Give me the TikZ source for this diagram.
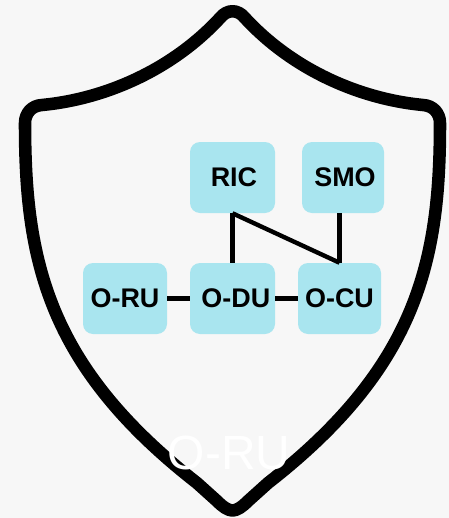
\documentclass[tikz,border=0pt]{standalone}
\usepackage{fontspec}
\setmainfont{Liberation Sans}
\definecolor{bgc}{HTML}{F7F7F7}
\definecolor{boxc}{HTML}{A9E5EF}
\tikzset{
  unitbox/.style={draw=none,fill=boxc,rounded corners=7.5pt,inner sep=0pt,font=\fontsize{20.2}{24}\selectfont\bfseries,text=black},
  link/.style={draw=black,line width=3.3pt},
  shieldline/.style={draw=black,line width=9.4pt,line join=round}
}
\begin{document}
\begin{tikzpicture}[x=0.75pt,y=-0.75pt]
\useasboundingbox (0,0) rectangle (449,518);
\fill[bgc] (0,0) rectangle (449,518);
\draw[shieldline]
  (220,18) .. controls (227,9) and (238,9) .. (245,18)
  .. controls (293,70) and (360,99) .. (423,105)
  .. controls (433,105.5) and (440,113) .. (440,123)
  .. controls (440,260) and (418,366) .. (268,483)
  -- (248,501)
  .. controls (242,507) and (237,510.5) .. (232.5,510.5)
  .. controls (228,510.5) and (223,507) .. (217,501)
  -- (197,483)
  .. controls (47,366) and (25,260) .. (25,123)
  .. controls (25,113) and (32,105.5) .. (42,105)
  .. controls (105,99) and (172,70) .. (220,18) -- cycle;
\node[unitbox,minimum width=63.75pt,minimum height=53.25pt] (ric) at (232.5,177.5) {\hspace*{2.2pt}RIC};
\node[unitbox,minimum width=61.5pt,minimum height=53.25pt] (smo) at (343,177.5) {\hspace*{3pt}SMO};
\node[unitbox,minimum width=63pt,minimum height=53.25pt] (oru) at (125,298.5) {\raisebox{-1pt}{O-RU}};
\node[unitbox,minimum width=63.75pt,minimum height=53.25pt] (odu) at (232.5,298.5) {\hspace*{5pt}\raisebox{-1pt}{O-DU}};
\node[unitbox,minimum width=62.25pt,minimum height=53.25pt] (ocu) at (339.5,298.5) {\raisebox{-1pt}{O-CU}};
\draw[link] (ric.south) -- (odu.north);
\draw[link] (ric.south) -- (ocu.north);
\draw[link] (ocu.north |- smo.south) -- (ocu.north);
\draw[link] (oru.east) -- (odu.west);
\draw[link] (odu.east) -- (ocu.west);
\node[text=white,inner sep=0pt,font=\fontsize{36}{42}\selectfont] (lbl) at (229,453) {O-RU};
\end{tikzpicture}
\end{document}
